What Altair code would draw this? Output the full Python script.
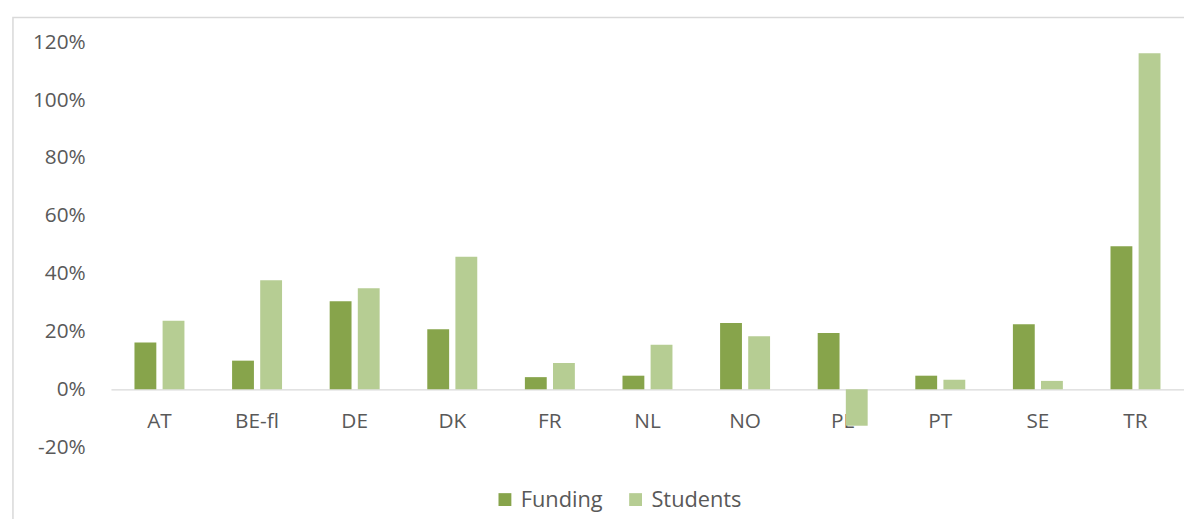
import altair as alt
import pandas as pd

countries = ["AT", "BE-fl", "DE", "DK", "FR", "NL", "NO", "PL", "PT", "SE", "TR"]
funding = [16.2, 9.9, 30.4, 20.8, 4.2, 4.7, 22.9, 19.5, 4.7, 22.5, 49.5]
students = [23.7, 37.7, 34.9, 45.8, 9.1, 15.4, 18.3, -12.6, 3.3, 2.9, 116.2]
series = ["Funding", "Students"]
colors = ["#87A44B", "#B6CD93"]
y_ticks = [-0.2, 0.0, 0.2, 0.4, 0.6, 0.8, 1.0, 1.2]

rows = []
for i, c in enumerate(countries):
    rows.append({"country": c, "series": series[0], "value": funding[i] / 100})
    rows.append({"country": c, "series": series[1], "value": students[i] / 100})
df = pd.DataFrame(rows)

W, H = 1084, 409
TEXT = "#595959"
FONT = "Open Sans"

frame = alt.Chart(alt.Data(values=[{}])).mark_rect(
    filled=False, stroke="#D9D9D9", strokeWidth=1.5
).encode(
    x=alt.value(-99), x2=alt.value(1120), y=alt.value(-25), y2=alt.value(520)
)

bars = alt.Chart(df).mark_bar().encode(
    x=alt.X(
        "country:N", sort=countries, title=None,
        scale=alt.Scale(paddingInner=0.488, paddingOuter=0.241),
        axis=alt.Axis(
            labelAngle=0, ticks=False, labelPadding=22, offset=-58.4,
            domainColor="#D9D9D9", domainWidth=1.3,
            labelFont=FONT, labelFontSize=21, labelColor=TEXT,
        ),
    ),
    xOffset=alt.XOffset("series:N", sort=series,
                        scale=alt.Scale(paddingInner=0.223, paddingOuter=0)),
    y=alt.Y(
        "value:Q", title=None,
        scale=alt.Scale(domain=[-0.2, 1.2], nice=False, zero=False),
        axis=alt.Axis(
            values=y_ticks, grid=False, domain=False, ticks=False,
            labelPadding=26, labelExpr="round(datum.value*100) + '%'",
            labelFont=FONT, labelFontSize=21, labelColor=TEXT,
        ),
    ),
    color=alt.Color(
        "series:N", sort=series,
        scale=alt.Scale(domain=series, range=colors),
        legend=alt.Legend(
            title=None, orient="none", legendX=387, legendY=451,
            direction="horizontal", symbolType="square", symbolSize=169,
            symbolStrokeWidth=0, labelFont=FONT, labelFontSize=22,
            labelColor=TEXT, labelOffset=5, columnPadding=22, padding=0,
        ),
    ),
)

chart = alt.layer(frame, bars).properties(
    width=W, height=H,
    background="white",
    autosize=alt.AutoSizeParams(type="none"),
    padding={"left": 104, "top": 32, "right": 0, "bottom": 70},
).configure_view(strokeWidth=0, strokeOpacity=0)

chart.save("out.html", embed_options={"renderer": "svg", "actions": False})
